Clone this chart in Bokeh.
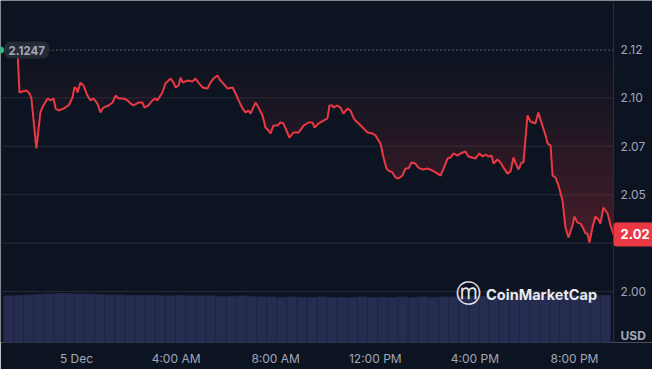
import numpy as np
from bokeh.plotting import figure
from bokeh.models import Range1d, FixedTicker, Span, Label
from bokeh.embed import file_html
from bokeh.resources import INLINE
from bokeh.core.properties import value

# ---------------- data ----------------
# hours relative to 5 Dec 00:00
hours = [-2.37, -2.29, -2.17, -2.01, -1.89, -1.81, -1.61, -1.45, -1.33, -1.16,
         -1.04, -0.92, -0.84, -0.72, -0.52, -0.32, -0.16, -0.08, 0.00, 0.04,
         0.16, 0.28, 0.44, 0.56, 0.68, 0.84, 0.96, 1.08, 1.29, 1.45,
         1.57, 1.69, 1.89, 2.05, 2.17, 2.29, 2.49, 2.65, 2.73, 2.89,
         3.05, 3.17, 3.25, 3.37, 3.45, 3.57, 3.78, 3.90, 3.98, 4.10,
         4.18, 4.26, 4.46, 4.66, 4.78, 4.90, 5.06, 5.26, 5.38, 5.50,
         5.66, 5.78, 5.90, 6.06, 6.27, 6.39, 6.51, 6.67, 6.79, 6.91,
         6.99, 7.19, 7.31, 7.47, 7.59, 7.71, 7.79, 7.91, 8.07, 8.19,
         8.31, 8.47, 8.55, 8.71, 8.92, 9.12, 9.32, 9.48, 9.56, 9.72,
         9.92, 10.08, 10.16, 10.28, 10.32, 10.48, 10.60, 10.72, 10.88, 11.00,
         11.12, 11.20, 11.33, 11.49, 11.69, 11.89, 12.01, 12.21, 12.33, 12.45,
         12.53, 12.69, 12.81, 12.93, 13.09, 13.21, 13.33, 13.45, 13.61, 13.73,
         13.90, 14.10, 14.30, 14.50, 14.62, 14.74, 14.90, 15.02, 15.14, 15.30,
         15.42, 15.62, 15.74, 16.02, 16.18, 16.31, 16.43, 16.55, 16.67, 16.75,
         16.91, 17.03, 17.15, 17.31, 17.43, 17.55, 17.63, 17.75, 17.87, 17.95,
         18.11, 18.23, 18.43, 18.55, 18.71, 18.84, 18.92, 19.04, 19.12, 19.24,
         19.36, 19.52, 19.64, 19.76, 19.92, 20.00, 20.12, 20.24, 20.36, 20.44,
         20.52, 20.60, 20.72, 20.84, 20.96, 21.04, 21.16, 21.33, 21.45, 21.57]

prices = [2.1247, 2.1028, 2.1033, 2.1038, 2.1023, 2.0997, 2.0739, 2.0925, 2.0961, 2.0997,
          2.0987, 2.0997, 2.0945, 2.0935, 2.0945, 2.0961, 2.1002, 2.1054, 2.1049, 2.1028,
          2.1079, 2.1064, 2.1012, 2.0987, 2.0997, 2.0971, 2.0925, 2.0950, 2.0961, 2.0976,
          2.1012, 2.0997, 2.0997, 2.0987, 2.0971, 2.0961, 2.0976, 2.0976, 2.0950, 2.0961,
          2.0987, 2.0997, 2.0987, 2.1012, 2.1028, 2.1074, 2.1100, 2.1079, 2.1054, 2.1064,
          2.1105, 2.1079, 2.1090, 2.1085, 2.1100, 2.1079, 2.1054, 2.1049, 2.1079, 2.1100,
          2.1116, 2.1090, 2.1074, 2.1049, 2.1054, 2.1023, 2.0987, 2.0945, 2.0925, 2.0935,
          2.0919, 2.0976, 2.0950, 2.0909, 2.0847, 2.0832, 2.0816, 2.0857, 2.0857, 2.0873,
          2.0868, 2.0821, 2.0795, 2.0821, 2.0821, 2.0857, 2.0873, 2.0873, 2.0847, 2.0868,
          2.0883, 2.0894, 2.0961, 2.0961, 2.0950, 2.0961, 2.0950, 2.0919, 2.0945, 2.0935,
          2.0899, 2.0883, 2.0868, 2.0847, 2.0821, 2.0816, 2.0806, 2.0764, 2.0692, 2.0635,
          2.0625, 2.0615, 2.0589, 2.0584, 2.0599, 2.0635, 2.0635, 2.0666, 2.0661, 2.0640,
          2.0630, 2.0635, 2.0625, 2.0609, 2.0599, 2.0635, 2.0687, 2.0692, 2.0713, 2.0702,
          2.0713, 2.0723, 2.0697, 2.0687, 2.0713, 2.0697, 2.0708, 2.0697, 2.0702, 2.0661,
          2.0682, 2.0666, 2.0640, 2.0609, 2.0620, 2.0692, 2.0666, 2.0630, 2.0666, 2.0666,
          2.0909, 2.0878, 2.0868, 2.0925, 2.0857, 2.0806, 2.0764, 2.0754, 2.0599, 2.0589,
          2.0547, 2.0470, 2.0331, 2.0279, 2.0341, 2.0387, 2.0356, 2.0351, 2.0325, 2.0300,
          2.0300, 2.0253, 2.0331, 2.0387, 2.0372, 2.0351, 2.0434, 2.0403, 2.0341, 2.0295]

open_price = 2.1247
open_label = "2.1247"
last_label = "2.02"
currency = "USD"

# volume (relative units), one bar per time bucket
vol_start = -2.93
vol_step = 0.4063
volumes = [95, 96, 97, 98, 99, 100, 100, 99, 99, 98,
           97, 97, 96, 96, 96, 96, 95, 96, 95, 95,
           95, 94, 94, 95, 94, 93, 93, 92, 93, 92,
           92, 93, 92, 92, 92, 93, 92, 92, 92, 93,
           92, 93, 92, 93, 93, 94, 94, 94, 94, 95,
           95, 96, 96, 96, 96, 96, 97, 96, 96, 96]

x_ticks = [0, 4, 8, 12, 16, 20]
x_labels = ["5 Dec", "4:00 AM", "8:00 AM", "12:00 PM", "4:00 PM", "8:00 PM"]
y_ticks = [2.0, 2.025, 2.05, 2.075, 2.1, 2.125]
y_labels = ["2.00", "2.02", "2.05", "2.07", "2.10", "2.12"]

# ---------------- style ----------------
BG = "#0d1421"
RED = "#ea3943"
TXT = "#a1a7bb"
GRID = "#272d39"
FONT = "Inter"

x_start, x_stop = -3.052, 23.133       # visible time window (incl. price scale column)
x_edge = hours[-1]                      # price-scale border
y_start, y_stop = 1.9737, 2.1503

p = figure(width=652, height=369, output_backend="svg", toolbar_location=None,
           x_range=Range1d(x_start, x_stop), y_range=Range1d(y_start, y_stop),
           min_border_left=0, min_border_top=0, min_border_right=0, min_border_bottom=27,
           background_fill_color=BG, border_fill_color=BG, outline_line_color=None)
p.yaxis.visible = False

# volume on its own range
p.extra_y_ranges = {"vol": Range1d(0, 698)}
vol_x = [vol_start + vol_step * (i + 0.5) for i in range(len(volumes))]
p.vbar(x=vol_x, top=volumes, width=vol_step, y_range_name="vol",
       fill_color="#262d51", line_color="#1f2645", line_width=1)

# horizontal grid lines (stop at the price scale)
grid_vals = y_ticks[:-1]
p.segment(x0=[x_start] * len(grid_vals), x1=[x_edge] * len(grid_vals),
          y0=grid_vals, y1=grid_vals, line_color=GRID, line_width=1)

# gradient fill between price and opening price (banded)
h = np.array(hours)
pr = np.array(prices)
lo_lvl = 2.018
n_bands = 30
edges = np.linspace(lo_lvl, open_price, n_bands + 1)
for k in range(n_bands):
    lo, hi = edges[k], edges[k + 1]
    c = 0.5 * (lo + hi)
    a = 0.29 * ((open_price - c) / (open_price - lo_lvl)) ** 1.15
    y1 = np.clip(pr, lo, hi)
    y2 = np.full_like(pr, hi)
    p.varea(x=h, y1=y1, y2=y2, fill_color=RED, fill_alpha=a)

# opening-price baseline (dotted)
p.segment(x0=[x_start], x1=[x_edge], y0=[open_price], y1=[open_price],
          line_color="#c5cad6", line_alpha=0.8, line_dash="1 3", line_width=1)

# price line
p.line(h, pr, line_color=RED, line_width=2)

# price scale border
p.add_layout(Span(location=x_edge, dimension="height", line_color="#2a303c", line_width=1))

# small start marker at the left edge
p.scatter(x=[x_start], y=[open_price], size=7, fill_color="#16c784", line_color=None)

# price scale labels (the one hidden under the last-price tag is skipped)
vis = [(t, l) for t, l in zip(y_ticks, y_labels) if abs(t - prices[-1]) > 0.006]
p.text(x=[x_edge] * len(vis), y=[t for t, _ in vis], text=[l for _, l in vis], x_offset=7,
       text_align="left", text_baseline="middle", text_color=TXT,
       text_font=value(FONT), text_font_size="12px")

# bottom time axis
xa = p.xaxis[0]
xa.ticker = FixedTicker(ticks=x_ticks)
xa.major_label_overrides = {t: l for t, l in zip(x_ticks, x_labels)}
xa.major_label_text_color = TXT
xa.major_label_text_font = FONT
xa.major_label_text_font_size = "12px"
xa.major_tick_line_color = None
xa.minor_tick_line_color = None
xa.major_tick_out = 0
xa.major_tick_in = 0
xa.minor_tick_out = 0
xa.minor_tick_in = 0
xa.axis_line_color = None
xa.major_label_standoff = 8
xa.axis_label_standoff = 0

p.xgrid.grid_line_color = None
p.ygrid.grid_line_color = None

# open price tag
p.add_layout(Label(x=x_start, y=open_price, x_offset=4, text=open_label,
                   text_baseline="middle", text_align="left",
                   text_font=FONT, text_font_size="11.5px", text_font_style="bold",
                   text_color=TXT, background_fill_color="#272c37",
                   background_fill_alpha=0.95, border_radius=6, padding=4))

# last price tag
p.add_layout(Label(x=x_edge, y=prices[-1], x_offset=0, text=last_label,
                   text_baseline="middle", text_align="left",
                   text_font=FONT, text_font_size="13px", text_font_style="bold",
                   text_color="white", background_fill_color=RED,
                   border_radius=3, padding=7))

# currency label
p.add_layout(Label(x=x_edge, y=y_start, x_offset=7, y_offset=7, text=currency,
                   text_baseline="middle", text_align="left",
                   text_font=FONT, text_font_size="12px", text_font_style="bold",
                   text_color=TXT))

# watermark
p.add_layout(Label(x=15.74, y=1.9992, text="\u24dc", text_baseline="middle",
                   text_align="center", text_font="DejaVu Sans", text_font_size="25px",
                   text_color="#e8eaef"))
p.add_layout(Label(x=16.45, y=1.9985, text="CoinMarketCap", text_baseline="middle",
                   text_align="left", text_font=FONT, text_font_size="14.5px",
                   text_font_style="bold", text_color="#e8eaef"))

open("out.html", "w").write(file_html(p, INLINE))
